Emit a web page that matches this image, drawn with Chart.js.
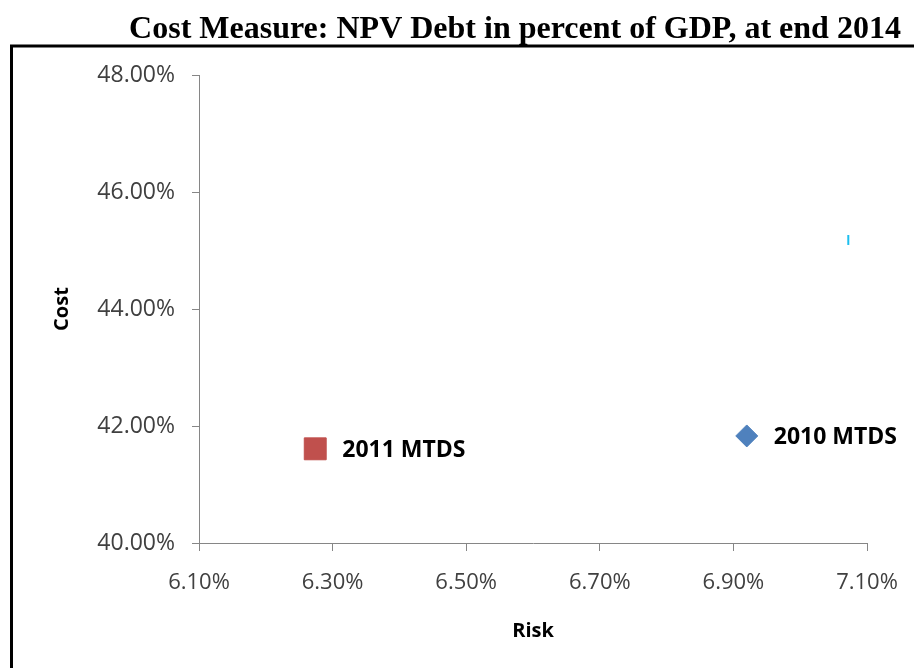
<!DOCTYPE html>
<html>
<head>
<meta charset="utf-8">
<script src="https://cdn.jsdelivr.net/npm/chart.js@4/dist/chart.umd.min.js"></script>
<style>
  html, body { margin: 0; padding: 0; background: #fff; }
  #wrap { width: 914px; height: 668px; position: relative; }
</style>
</head>
<body>
<div id="wrap"><canvas id="myChart"></canvas></div>
<script>
// データ
const labels = ['2010 MTDS', '2011 MTDS', ''];
const riskValues = [6.92, 6.274, 7.072];   // Risk (%)
const costValues = [41.83, 41.61, 45.18];  // Cost (%)
const xTickValues = [6.10, 6.30, 6.50, 6.70, 6.90, 7.10];
const yTickValues = [40, 42, 44, 46, 48];

const titleText = 'Cost Measure: NPV Debt in percent of GDP, at end 2014';
const xTitle = 'Risk';
const yTitle = 'Cost';

// 各系列のスタイル
const styles = [
    { pointStyle: 'rectRot', radius: 11, color: '#4F81BD', border: 1, rotation: 0 },
    { pointStyle: 'rect', radius: 15.5, color: '#C0504D', border: 1, rotation: 0 },
    { pointStyle: 'line', radius: 5, color: '#1CBFEF', border: 2, rotation: 90 }
];

const datasets = labels.map((name, i) => ({
    label: name,
    data: [{ x: riskValues[i], y: costValues[i] }],
    pointStyle: styles[i].pointStyle,
    pointRadius: styles[i].radius,
    pointRotation: styles[i].rotation,
    backgroundColor: styles[i].color,
    borderColor: styles[i].color,
    borderWidth: styles[i].border
}));

// 枠線・タイトル・ラベルを描くプラグイン
const extras = {
    id: 'extras',
    afterDraw(chart) {
        const c = chart.ctx;
        c.save();
        // 外枠
        c.strokeStyle = '#000';
        c.lineWidth = 3;
        c.beginPath();
        c.moveTo(11.5, 700);
        c.lineTo(11.5, 46);
        c.lineTo(920, 46);
        c.stroke();

        // タイトル
        c.fillStyle = '#000';
        c.font = 'bold 32px "Liberation Serif"';
        c.textAlign = 'center';
        c.textBaseline = 'alphabetic';
        c.fillText(titleText, 515, 38);

        // 軸タイトル
        c.font = 'bold 20px "Open Sans"';
        c.textBaseline = 'middle';
        const area = chart.chartArea;
        c.fillText(xTitle, (area.left + area.right) / 2, 631);
        c.save();
        c.translate(62, (area.top + area.bottom) / 2);
        c.rotate(-Math.PI / 2);
        c.fillText(yTitle, 0, 0);
        c.restore();

        // データラベル
        c.font = 'bold 23px "Open Sans"';
        c.textAlign = 'left';
        labels.forEach((name, i) => {
            if (!name) return;
            const pt = chart.getDatasetMeta(i).data[0];
            c.fillText(name, pt.x + 27, pt.y + 2);
        });
        c.restore();
    }
};

const ctx = document.getElementById('myChart').getContext('2d');
const myChart = new Chart(ctx, {
    type: 'scatter',
    data: { datasets: datasets },
    options: {
        responsive: true,
        maintainAspectRatio: false,
        animation: false,
        layout: { padding: { left: 0, top: 75, right: 47, bottom: 0 } },
        plugins: {
            legend: { display: false },
            tooltip: { enabled: false }
        },
        scales: {
            x: {
                type: 'linear',
                min: 6.10,
                max: 7.10,
                afterBuildTicks: s => { s.ticks = xTickValues.map(v => ({ value: v })); },
                afterFit: s => { s.height = 125; s.paddingLeft = 0; s.paddingRight = 0; },
                border: { color: '#868686', width: 1 },
                grid: { drawOnChartArea: false, color: '#868686', tickLength: 8 },
                ticks: {
                    padding: 19,
                    color: '#404040',
                    font: { family: 'Open Sans', size: 22 },
                    maxRotation: 0,
                    callback: v => v.toFixed(2) + '%'
                }
            },
            y: {
                type: 'linear',
                min: 40,
                max: 48,
                afterBuildTicks: s => { s.ticks = yTickValues.map(v => ({ value: v })); },
                afterFit: s => { s.width = 199; s.paddingTop = 0; s.paddingBottom = 0; },
                border: { color: '#868686', width: 1 },
                grid: { drawOnChartArea: false, color: '#868686', tickLength: 7 },
                ticks: {
                    padding: 17,
                    color: '#404040',
                    font: { family: 'Open Sans', size: 23 },
                    callback: v => v.toFixed(2) + '%'
                }
            }
        }
    },
    plugins: [extras]
});
</script>
</body>
</html>
